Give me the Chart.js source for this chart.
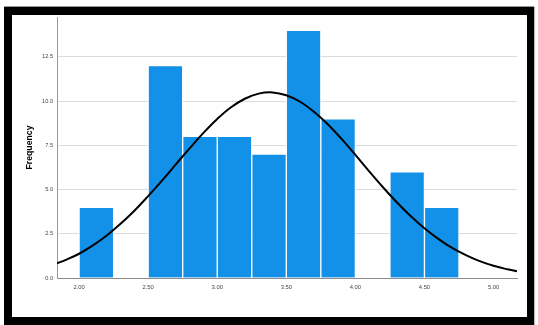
<!DOCTYPE html>
<html>
<head>
<meta charset="utf-8">
<script src="https://cdn.jsdelivr.net/npm/chart.js@4"></script>
<style>
  html, body { margin: 0; padding: 0; background: #fff; }
  body { width: 538px; height: 325px; position: relative; overflow: hidden; }
  #frame {
    position: absolute; left: 4px; top: 7px; width: 530px; height: 318px;
    box-sizing: border-box; border: 8px solid #000; border-right-width: 7px;
    box-shadow: 0 -1px 0 #999, 1px 0 1px #bbb; background: #fff;
  }
  #wrap { position: absolute; left: 0; top: 0; width: 515px; height: 302px; }
</style>
</head>
<body>
<div id="frame"><div id="wrap"><canvas id="myChart"></canvas></div></div>
<script>
// histogram bins (centre of each 0.25 wide bin) and counts
const binCenters = [2.125, 2.375, 2.625, 2.875, 3.125, 3.375, 3.625, 3.875, 4.125, 4.375, 4.625];
const counts = [4, 0, 12, 8, 8, 7, 14, 9, 0, 6, 4];

// normal curve
const curveX = [1.84, 1.9, 2.0, 2.1, 2.2, 2.3, 2.4, 2.5, 2.6, 2.7, 2.8, 2.9, 3.0, 3.1, 3.2, 3.3, 3.4,
  3.5, 3.6, 3.7, 3.8, 3.9, 4.0, 4.1, 4.2, 4.3, 4.4, 4.5, 4.6, 4.7, 4.8, 4.9, 5.0, 5.1, 5.17];
const curveY = [0.83, 1.01, 1.37, 1.84, 2.40, 3.06, 3.80, 4.63, 5.50, 6.42, 7.33, 8.20, 8.99, 9.65, 10.13, 10.42, 10.49,
  10.33, 9.96, 9.40, 8.69, 7.86, 6.96, 6.03, 5.13, 4.28, 3.50, 2.81, 2.21, 1.70, 1.29, 0.95, 0.69, 0.49, 0.38];

const xTicks = [2.0, 2.5, 3.0, 3.5, 4.0, 4.5, 5.0];
const yTicks = [0, 2.5, 5.0, 7.5, 10.0, 12.5];

const ctx = document.getElementById('myChart');
new Chart(ctx, {
    data: {
        datasets: [
            {
                type: 'line',
                label: 'Normal',
                data: curveX.map((x, i) => ({x: x, y: curveY[i]})),
                borderColor: '#000',
                borderWidth: 2,
                pointRadius: 0,
                tension: 0.4,
                fill: false,
                order: 0
            },
            {
                type: 'bar',
                label: 'Frequency',
                data: binCenters.map((x, i) => ({x: x, y: counts[i]})),
                backgroundColor: '#1391e8',
                borderColor: 'rgba(255,255,255,0.85)',
                borderWidth: 1,
                borderSkipped: 'bottom',
                barPercentage: 1,
                categoryPercentage: 1,
                order: 1
            }
        ]
    },
    options: {
        responsive: true,
        maintainAspectRatio: false,
        animation: false,
        layout: { padding: { top: 2, right: 10, left: 0, bottom: 0 } },
        plugins: {
            legend: { display: false },
            tooltip: { enabled: false }
        },
        scales: {
            x: {
                type: 'linear',
                offset: false,
                min: 1.84,
                max: 5.17,
                afterBuildTicks: (axis) => { axis.ticks = xTicks.map(v => ({value: v})); },
                afterFit: (axis) => {
                    axis.height = 39;
                    axis.paddingLeft = 0;
                    axis.paddingRight = 0;
                },
                grid: { display: false, drawTicks: false, offset: false },
                border: { color: '#8a8a8a', width: 1 },
                ticks: {
                    padding: 6,
                    color: '#444',
                    font: { family: 'Liberation Sans, Arial, sans-serif', size: 5.8 },
                    callback: (v) => Number(v).toFixed(2)
                }
            },
            y: {
                min: 0,
                max: 14.75,
                afterBuildTicks: (axis) => { axis.ticks = yTicks.map(v => ({value: v})); },
                afterFit: (axis) => {
                    axis.width = 45;
                    axis.paddingTop = 0;
                    axis.paddingBottom = 0;
                },
                grid: { color: '#dcdcdc', lineWidth: 1, drawTicks: false },
                border: { color: '#9a9a9a', width: 1 },
                ticks: {
                    padding: 4,
                    color: '#444',
                    font: { family: 'Liberation Sans, Arial, sans-serif', size: 5.6 },
                    callback: (v) => Number(v).toFixed(1)
                },
                title: {
                    display: true,
                    text: 'Frequency',
                    color: '#000',
                    padding: { top: 12, bottom: 0 },
                    font: { family: 'Liberation Sans, Arial, sans-serif', size: 8.7, weight: 'bold' }
                }
            }
        }
    }
});
</script>
</body>
</html>
